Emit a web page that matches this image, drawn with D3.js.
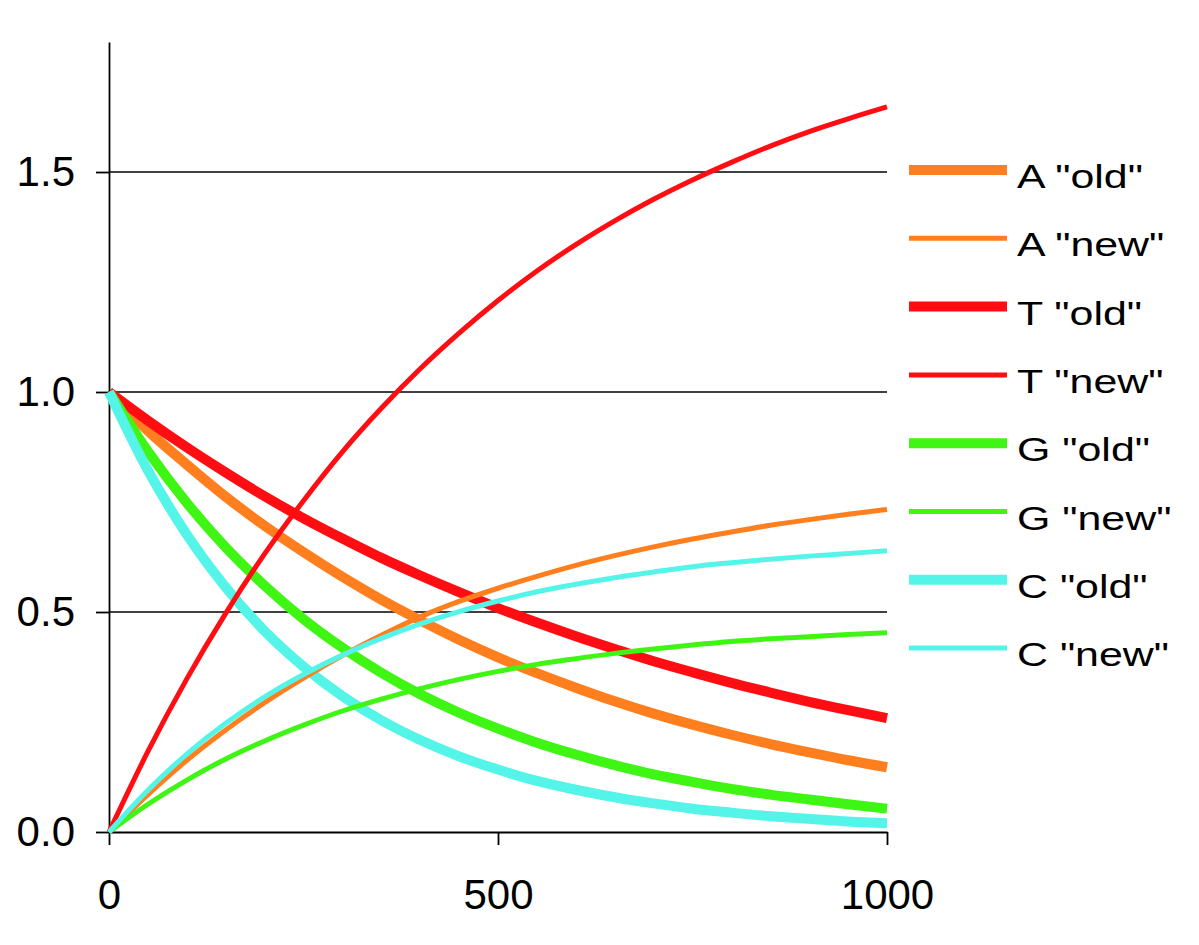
<!DOCTYPE html>
<html>
<head>
<meta charset="utf-8">
<script src="https://cdn.jsdelivr.net/npm/d3@7"></script>
<style>
  html, body { margin: 0; padding: 0; background: #ffffff; }
  svg { display: block; }
  text { font-family: "Liberation Sans", Arial, Helvetica, sans-serif; fill: #000; }
</style>
</head>
<body>
<svg id="chart" width="1199" height="945"></svg>
<script>
// ---------- DATA ----------
const time = [0, 50, 100, 150, 200, 250, 300, 350, 400, 450, 500, 550, 600, 650, 700, 750, 800, 850, 900, 950, 1000];

const A_old = [1.000, 0.912, 0.835, 0.762, 0.696, 0.636, 0.580, 0.528, 0.481, 0.437, 0.397, 0.361, 0.328, 0.297, 0.269, 0.244, 0.221, 0.200, 0.181, 0.163, 0.147];
const A_new = [0.000, 0.085, 0.163, 0.232, 0.294, 0.350, 0.401, 0.447, 0.489, 0.524, 0.554, 0.581, 0.606, 0.628, 0.648, 0.666, 0.682, 0.697, 0.710, 0.722, 0.733];
const T_old = [1.000, 0.935, 0.874, 0.817, 0.763, 0.713, 0.667, 0.623, 0.583, 0.545, 0.509, 0.476, 0.445, 0.416, 0.388, 0.363, 0.339, 0.317, 0.296, 0.277, 0.259];
const T_new = [0.000, 0.183, 0.348, 0.497, 0.632, 0.753, 0.864, 0.963, 1.053, 1.134, 1.208, 1.275, 1.335, 1.389, 1.438, 1.482, 1.522, 1.559, 1.592, 1.621, 1.648];
const G_old = [1.000, 0.865, 0.748, 0.647, 0.560, 0.484, 0.419, 0.362, 0.313, 0.271, 0.235, 0.203, 0.176, 0.152, 0.131, 0.114, 0.098, 0.085, 0.074, 0.063, 0.053];
const G_new = [0.000, 0.063, 0.118, 0.166, 0.207, 0.243, 0.275, 0.302, 0.326, 0.347, 0.365, 0.381, 0.394, 0.406, 0.416, 0.425, 0.433, 0.439, 0.444, 0.449, 0.453];
const C_old = [1.000, 0.822, 0.676, 0.556, 0.457, 0.376, 0.309, 0.254, 0.209, 0.172, 0.142, 0.116, 0.096, 0.079, 0.065, 0.053, 0.044, 0.036, 0.030, 0.024, 0.020];
const C_new = [0.000, 0.095, 0.177, 0.247, 0.307, 0.358, 0.402, 0.440, 0.473, 0.501, 0.525, 0.546, 0.563, 0.578, 0.591, 0.603, 0.612, 0.620, 0.627, 0.633, 0.639];

const seriesNames = ['A "old"', 'A "new"', 'T "old"', 'T "new"', 'G "old"', 'G "new"', 'C "old"', 'C "new"'];
const seriesValues = [A_old, A_new, T_old, T_new, G_old, G_new, C_old, C_new];
const seriesColors = ["#ff7f1e", "#ff7f1e", "#ff0d12", "#ff0d12", "#3ef514", "#3ef514", "#55f4e8", "#55f4e8"];
const seriesKind = ["old", "new", "old", "new", "old", "new", "old", "new"];

const xTicks = [0, 500, 1000];
const yTicks = [0.0, 0.5, 1.0, 1.5];
const gridValues = [0.5, 1.0, 1.5];

// ---------- LAYOUT ----------
const svg = d3.select("#chart");
const x = d3.scaleLinear().domain([0, 1000]).range([109, 887]);
const y = d3.scaleLinear().domain([0, 1.7955]).range([832, 42]);

const thick = 10, thin = 5;

// gridlines
svg.append("g").selectAll("line").data(gridValues).join("line")
  .attr("x1", x(0)).attr("x2", x(1000))
  .attr("y1", d => y(d)).attr("y2", d => y(d))
  .attr("stroke", "#000").attr("stroke-width", 1.6);

// y axis
const yAxis = svg.append("g").attr("transform", `translate(${x(0)},0)`)
  .call(d3.axisLeft(y).tickValues(yTicks).tickFormat(d3.format(".1f")).tickSize(13).tickSizeOuter(0).tickPadding(21));
// x axis
const xAxis = svg.append("g").attr("transform", `translate(0,${y(0)})`)
  .call(d3.axisBottom(x).tickValues(xTicks).tickFormat(d3.format("d")).tickSize(13).tickSizeOuter(0).tickPadding(34));

[yAxis, xAxis].forEach(g => {
  g.select(".domain").attr("stroke", "#000").attr("stroke-width", 1.8);
  g.selectAll(".tick line").attr("stroke", "#000").attr("stroke-width", 1.8);
  g.selectAll(".tick text").attr("font-size", 42).attr("fill", "#000")
    .style("font-family", '"Liberation Sans", Arial, sans-serif');
});

// lines
const line = d3.line().x((d, i) => x(time[i])).y(d => y(d)).curve(d3.curveMonotoneX);
const order = [0, 2, 4, 6, 1, 3, 5, 7];
svg.append("g").selectAll("path").data(order).join("path")
  .attr("d", i => line(seriesValues[i]))
  .attr("fill", "none")
  .attr("stroke", i => seriesColors[i])
  .attr("stroke-width", i => seriesKind[i] === "old" ? thick : thin)
  .attr("stroke-linejoin", "round");

// legend
const leg = svg.append("g");
const rowY = i => 170 + i * 68.3;
seriesNames.forEach((name, i) => {
  leg.append("line")
    .attr("x1", 909).attr("x2", 1007)
    .attr("y1", rowY(i)).attr("y2", rowY(i))
    .attr("stroke", seriesColors[i])
    .attr("stroke-width", seriesKind[i] === "old" ? thick : thin);
  leg.append("text")
    .attr("transform", `translate(1017,${rowY(i) + 18}) scale(1.3,1)`)
    .attr("font-size", 33)
    .text(name);
});
</script>
</body>
</html>
